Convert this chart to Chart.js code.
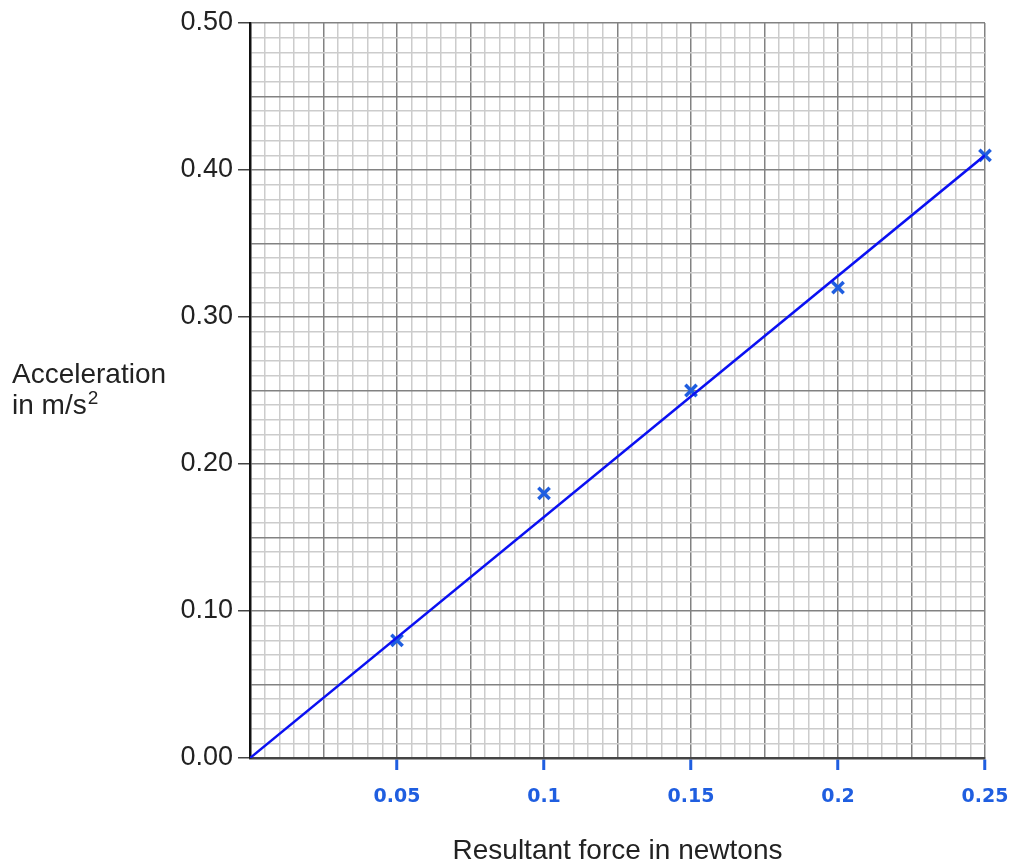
<!DOCTYPE html>
<html>
<head>
<meta charset="utf-8">
<script src="https://cdn.jsdelivr.net/npm/chart.js@4"></script>
<style>
  body { margin: 0; background: #fff; }
  #wrap { width: 1012px; height: 865px; position: relative; }
</style>
</head>
<body>
<div id="wrap"><canvas id="myChart"></canvas></div>
<script>
// measured points (force in N, acceleration in m/s^2)
const forceN = [0.05, 0.1, 0.15, 0.2, 0.25];
const accel = [0.08, 0.18, 0.25, 0.32, 0.41];
// best fit line drawn by hand
const fitX = [0, 0.25];
const fitY = [0, 0.41];
// handwritten x labels at every 10th minor step
const xTickLabels = ['0.05', '0.1', '0.15', '0.2', '0.25'];
const yTickLabels = ['0.00', '0.10', '0.20', '0.30', '0.40', '0.50'];

const FONT = '"Liberation Sans", Arial, sans-serif';
const INK = '#1f5ee0';

// horizontal y axis title, two lines with a superscript
const yTitle = {
    id: 'yTitle',
    afterDraw(chart) {
        const ctx = chart.ctx;
        ctx.save();
        ctx.fillStyle = '#222';
        ctx.textBaseline = 'alphabetic';
        ctx.textAlign = 'left';
        ctx.font = '28px ' + FONT;
        ctx.fillText('Acceleration', 12, 383);
        ctx.fillText('in m/s', 12, 414);
        const w = ctx.measureText('in m/s').width;
        ctx.font = '19px ' + FONT;
        ctx.fillText('2', 12 + w + 1, 404);
        ctx.restore();
    }
};

const ctx = document.getElementById('myChart').getContext('2d');
const myChart = new Chart(ctx, {
    type: 'scatter',
    data: {
        datasets: [
            {
                label: 'fit',
                type: 'line',
                data: fitX.map((x, i) => ({x: x, y: fitY[i]})),
                borderColor: '#0a10f2',
                borderWidth: 2.5,
                pointRadius: 0,
                fill: false
            },
            {
                label: 'measured',
                data: forceN.map((x, i) => ({x: x, y: accel[i]})),
                pointStyle: 'crossRot',
                pointRadius: 8,
                pointBorderWidth: 3.5,
                borderColor: INK,
                backgroundColor: INK,
                clip: false
            }
        ]
    },
    options: {
        responsive: true,
        maintainAspectRatio: false,
        animation: false,
        layout: {
            padding: {left: 0, right: 27, top: 23, bottom: 0}
        },
        plugins: {
            legend: {display: false},
            tooltip: {enabled: false}
        },
        scales: {
            x: {
                type: 'linear',
                min: 0,
                max: 0.25,
                afterFit: (scale) => {
                    scale.height = 107;
                    scale.paddingRight = 0;
                    scale.paddingLeft = 0;
                },
                border: {color: '#444', width: 2.5},
                grid: {
                    color: (c) => c.index % 5 === 0 ? '#828282' : '#cccccc',
                    lineWidth: 1.5,
                    tickLength: 12,
                    tickWidth: 3,
                    tickColor: (c) => (c.index % 10 === 0 && c.index > 0) ? INK : 'rgba(0,0,0,0)'
                },
                ticks: {
                    stepSize: 0.005,
                    autoSkip: false,
                    maxRotation: 0,
                    minRotation: 0,
                    padding: 16,
                    color: INK,
                    font: {family: '"DejaVu Sans", sans-serif', size: 19, weight: 'bold'},
                    callback: (v, i) => (i % 10 === 0 && i > 0) ? xTickLabels[i / 10 - 1] : ''
                },
                title: {
                    display: true,
                    text: 'Resultant force in newtons',
                    color: '#222',
                    font: {family: FONT, size: 28, lineHeight: 1},
                    padding: {top: 0, bottom: 0}
                }
            },
            y: {
                type: 'linear',
                min: 0,
                max: 0.5,
                afterFit: (scale) => {
                    scale.width = 250;
                    scale.paddingTop = 0;
                    scale.paddingBottom = 0;
                },
                border: {color: '#111', width: 2.5},
                grid: {
                    color: (c) => c.index % 5 === 0 ? '#828282' : '#cccccc',
                    lineWidth: 1.5,
                    tickLength: 12,
                    tickWidth: 1.5,
                    tickColor: (c) => c.index % 10 === 0 ? '#444' : 'rgba(0,0,0,0)'
                },
                ticks: {
                    stepSize: 0.01,
                    autoSkip: false,
                    padding: 5,
                    color: '#222',
                    font: {family: FONT, size: 27},
                    callback: (v, i) => i % 10 === 0 ? yTickLabels[i / 10] : ''
                }
            }
        }
    },
    plugins: [yTitle]
});
</script>
</body>
</html>
